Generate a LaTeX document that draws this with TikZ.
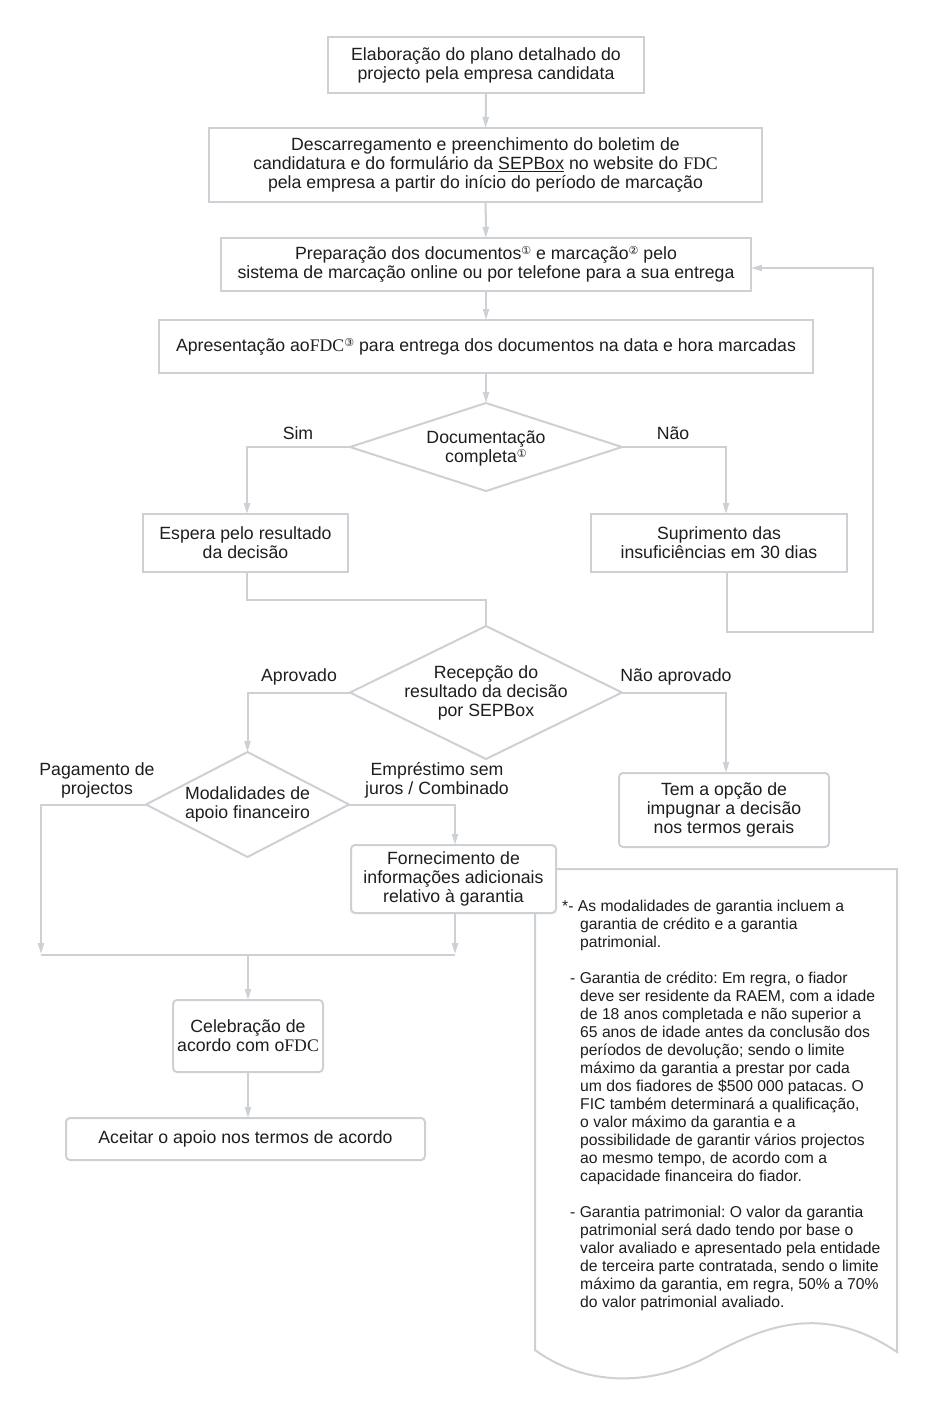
\documentclass[tikz,border=0pt]{standalone}
\usepackage{fontspec}
\setmainfont{Liberation Sans}
\newfontfamily\serfdc{Liberation Serif}
\newfontfamily\symfont{DejaVu Sans}
\usetikzlibrary{shapes.geometric,arrows.meta,calc}
\definecolor{lg}{RGB}{205,209,213}
\definecolor{tx}{RGB}{30,30,30}
\newcommand\cnum[1]{\raisebox{0.5ex}{\symfont\fontsize{11}{11}\selectfont #1}}
\newcommand\fdc{{\serfdc FDC}}
\newcommand\mainsz{\fontsize{17.7}{19}\selectfont}
\newcommand\notesz{\fontsize{15.7}{18}\selectfont}
\frenchspacing
\begin{document}
\begin{tikzpicture}[x=1pt,y=-1pt,
  line/.style={draw=lg, line width=2pt},
  arr/.style={line, -{Triangle[length=11pt,width=6pt]}},
  box/.style={draw=lg, line width=2pt, fill=white, inner sep=0pt, outer sep=0pt, align=center, text=tx, font=\mainsz},
  rbox/.style={box, rounded corners=4pt},
  dia/.style={diamond, draw=lg, line width=2pt, fill=white, inner sep=0pt, outer sep=0pt},
  lbl/.style={text=tx, font=\mainsz, align=center, inner sep=0pt},
  ntxt/.style={text=tx, font=\notesz, anchor=base west, inner sep=0pt}]
\useasboundingbox (0,0) rectangle (924,1403);
\fill[white] (0,0) rectangle (924,1403);

% note shape (document)
\draw[line, fill=white] (535,1350) -- (535,869) -- (897,869) -- (897,1352)
  .. controls (820,1300) and (760,1330) .. (716,1352)
  .. controls (660,1385) and (590,1390) .. (535,1350) -- cycle;

% boxes
\node[box, minimum width=316pt, minimum height=56pt] (b1) at (486,65)
  {Elaboração do plano detalhado do\\projecto pela empresa candidata};
\node[box, minimum width=553pt, minimum height=74pt] (b2) at (485.5,165)
  {Descarregamento e preenchimento do boletim de\\candidatura e do formulário da \underline{SEPBox} no website do \fdc\\pela empresa a partir do início do período de marcação};
\node[box, minimum width=530pt, minimum height=53pt] (b3) at (486,264.5)
  {Preparação dos documentos\cnum{①} e marcação\cnum{②} pelo\\sistema de marcação online ou por telefone para a sua entrega};
\node[box, minimum width=654pt, minimum height=53pt] (b4) at (486,346.5)
  {Apresentação ao\fdc\cnum{③} para entrega dos documentos na data e hora marcadas};

\node[dia, minimum width=272pt, minimum height=88pt] (d1) at (486,447) {};
\node[lbl] (d1t) at (486,448) {Documentação\\completa\cnum{①}};

\node[box, minimum width=205pt, minimum height=58pt] (esp) at (245.5,543)
  {Espera pelo resultado\\da decisão};
\node[box, minimum width=256pt, minimum height=58pt] (sup) at (719,543)
  {Suprimento das\\insuficiências em 30 dias};

\node[dia, minimum width=272pt, minimum height=133pt] (d2) at (486,692.5) {};
\node[lbl] (d2t) at (486,693) {Recepção do\\resultado da decisão\\por SEPBox};

\node[rbox, minimum width=210pt, minimum height=74pt] (tem) at (724,810)
  {Tem a opção de\\impugnar a decisão\\nos termos gerais};

\node[dia, minimum width=203pt, minimum height=105pt] (d3) at (247.5,804.5) {};
\node[lbl] (d3t) at (247.5,804) {Modalidades de\\apoio financeiro};

\node[rbox, minimum width=205pt, minimum height=68pt] (forn) at (453.5,879)
  {Fornecimento de\\informações adicionais\\relativo à garantia};

\node[rbox, minimum width=150pt, minimum height=72pt] (cel) at (248,1036)
  {Celebração de\\acordo com o\fdc};
\node[rbox, minimum width=359pt, minimum height=42pt] (ace) at (245.5,1139)
  {Aceitar o apoio nos termos de acordo};

% branch labels
\node[lbl] (lsim) at (298,433) {Sim};
\node[lbl] (lnao) at (673,433) {Não};
\node[lbl] (lapr) at (299,677) {Aprovado};
\node[lbl] (lnapr) at (676,677) {Não aprovado};
\node[lbl] (lpag) at (97,780) {Pagamento de\\projectos};
\node[lbl] (lemp) at (437,780) {Empréstimo sem\\juros / Combinado};

% coordinates
\coordinate (loopc) at (873,632);
\coordinate (jl) at (41,955);

% connectors
\draw[arr] (b1) -- (b2);
\draw[arr] (b2) -- (b3);
\draw[arr] (b3) -- (b4);
\draw[arr] (b4) -- (d1);
\draw[arr] (d1.west) -| ([xshift=1.5pt]esp.north);
\draw[arr] (d1.east) -| ([xshift=7pt]sup.north);
\draw[arr] ([xshift=8pt]sup.south) |- (loopc) |- ([yshift=-3.5pt]b3.east);
\draw[line] ([xshift=1.5pt]esp.south) -- ++(0,28) -| (d2.north);
\draw[arr] (d2.west) -| (d3.north);
\draw[arr] (d2.east) -| ([xshift=2pt]tem.north);
\draw[arr] (d3.west) -| ([yshift=1pt]jl);
\draw[arr] (d3.east) -| ([xshift=1.5pt]forn.north);
\draw[arr] ([xshift=1.5pt]forn.south) -- ([xshift=1.5pt,yshift=1pt]forn.south |- jl);
\draw[line] (jl) -- ([xshift=1.5pt]forn.south |- jl);
\draw[arr] (cel.north |- jl) -- (cel.north);
\draw[arr] (cel.south) -- (cel.south |- ace.north);

% note text
\node[ntxt] (n1) at (562,911) {*- As modalidades de garantia incluem a};
\foreach \t [count=\i from 0] in {{garantia de crédito e a garantia},{patrimonial.}}
  \node[ntxt] (na\i) at (580,929+18*\i) {\t};
\node[ntxt] (n2) at (570,983) {- Garantia de crédito: Em regra, o fiador};
\foreach \t [count=\i from 0] in {{deve ser residente da RAEM, com a idade},
  {de 18 anos completada e não superior a},
  {65 anos de idade antes da conclusão dos},
  {períodos de devolução; sendo o limite},
  {máximo da garantia a prestar por cada},
  {um dos fiadores de \$500 000 patacas. O},
  {FIC também determinará a qualificação,},
  {o valor máximo da garantia e a},
  {possibilidade de garantir vários projectos},
  {ao mesmo tempo, de acordo com a},
  {capacidade financeira do fiador.}}
  \node[ntxt] (nb\i) at (580,1001+18*\i) {\t};
\node[ntxt] (n3) at (570,1217) {- Garantia patrimonial: O valor da garantia};
\foreach \t [count=\i from 0] in {{patrimonial será dado tendo por base o},
  {valor avaliado e apresentado pela entidade},
  {de terceira parte contratada, sendo o limite},
  {máximo da garantia, em regra, 50\% a 70\%},
  {do valor patrimonial avaliado.}}
  \node[ntxt] (nc\i) at (580,1235+18*\i) {\t};
\end{tikzpicture}
\end{document}
